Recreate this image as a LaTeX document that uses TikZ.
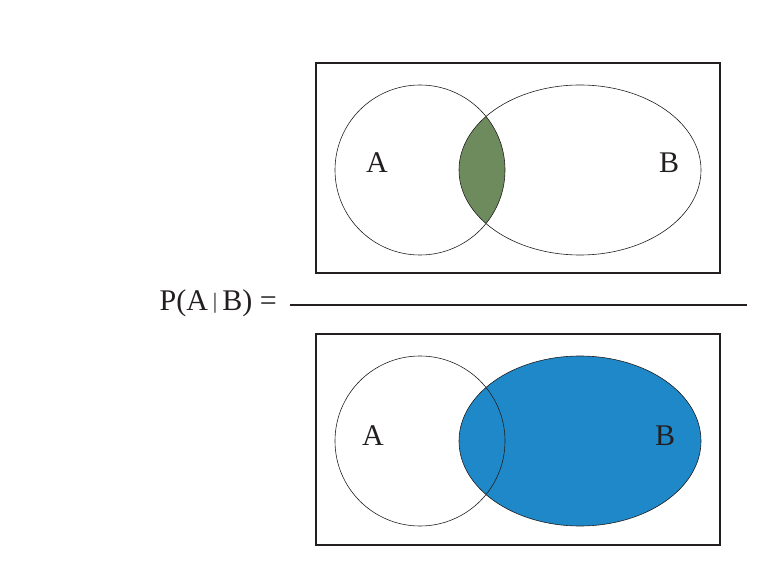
\documentclass[tikz,border=0pt]{standalone}
\usepackage{fontspec}
\setmainfont{Liberation Serif}
\definecolor{txt}{HTML}{231F20}
\definecolor{grn}{HTML}{6E8B5E}
\definecolor{blu}{HTML}{1E88C8}
\begin{document}
\begin{tikzpicture}[x=1pt,y=-1pt,
  lbl/.style={font=\fontsize{30}{30}\selectfont,text=txt,inner sep=0},
  box/.style={draw=txt,line width=1.2pt},
  ring/.style={draw=txt,line width=0.6pt}]
\useasboundingbox (0,0) rectangle (757,561);
% top
\node[box,minimum width=404,minimum height=210,inner sep=0] (r1) at (518,168) {};
\begin{scope}
\clip (420,170) circle [radius=85];
\fill[grn] (580,170) ellipse [x radius=121,y radius=85];
\end{scope}
\draw[ring] (420,170) circle [radius=85];
\draw[ring] (580,170) ellipse [x radius=121,y radius=85];
\node[lbl] (a1) at (377,163) {A};
\node[lbl] (b1) at (669,163) {B};
% bottom
\node[box,minimum width=404,minimum height=211,inner sep=0] (r2) at (518,439.5) {};
\fill[blu] (580,441) ellipse [x radius=121,y radius=85];
\draw[ring] (420,441) circle [radius=85];
\draw[ring] (580,441) ellipse [x radius=121,y radius=85];
\node[lbl] (a2) at (373,436) {A};
\node[lbl] (b2) at (665,436) {B};
% fraction
\coordinate (f1) at (290,305);
\coordinate (f2) at (747,305);
\draw[txt,line width=1.2pt] (f1) -- (f2);
\node[lbl,anchor=east] (p) at (277,303) {P(A\,{\fontsize{22}{22}\selectfont\raisebox{2pt}{|}}\,B) =};
\end{tikzpicture}
\end{document}
